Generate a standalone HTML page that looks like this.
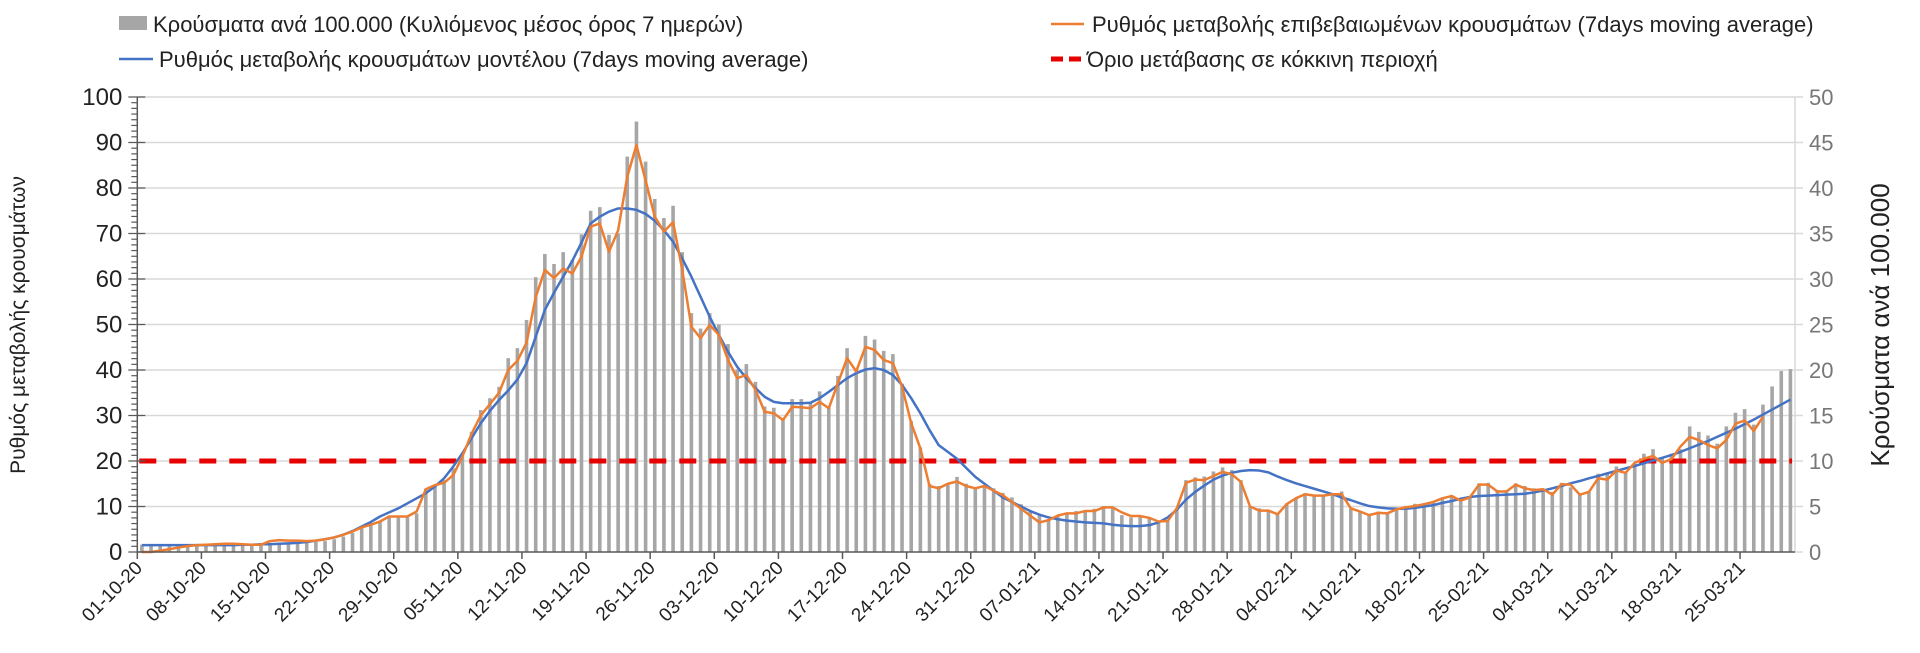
<!DOCTYPE html>
<html><head><meta charset="utf-8"><style>
html,body{margin:0;padding:0;background:#fff;}
body{width:1920px;height:648px;overflow:hidden;font-family:"Liberation Sans","DejaVu Sans",sans-serif;}
svg text{font-family:"Liberation Sans","DejaVu Sans",sans-serif;}
</style></head><body>
<svg id="chart" width="1920" height="648" viewBox="0 0 1920 648" xmlns="http://www.w3.org/2000/svg">
<g id="grid"></g>
<g id="bars"></g>
<g id="lines"></g>
<g id="axes"></g>
<g>
  <rect x="119" y="16" width="28" height="14" fill="#a6a6a6"/>
  <text x="153" y="32" font-size="22" fill="#222">Κρούσματα ανά 100.000 (Κυλιόμενος μέσος όρος 7 ημερών)</text>
  <line x1="1051" y1="24" x2="1084" y2="24" stroke="#ED7D31" stroke-width="2.5"/>
  <text x="1092" y="32" font-size="22" fill="#222">Ρυθμός μεταβολής επιβεβαιωμένων κρουσμάτων (7days moving average)</text>
  <line x1="119" y1="59" x2="153" y2="59" stroke="#4472C4" stroke-width="2.5"/>
  <text x="159" y="67" font-size="22" fill="#222">Ρυθμός μεταβολής κρουσμάτων μοντέλου (7days moving average)</text>
  <line x1="1051" y1="59" x2="1082" y2="59" stroke="#e60000" stroke-width="5" stroke-dasharray="12,6"/>
  <text x="1087" y="67" font-size="22" fill="#222">Όριο μετάβασης σε κόκκινη περιοχή</text>
</g>
<text transform="translate(25,325) rotate(-90)" text-anchor="middle" font-size="21" fill="#222">Ρυθμός μεταβολής κρουσμάτων</text>
<text transform="translate(1889,325) rotate(-90)" text-anchor="middle" font-size="26" fill="#222">Κρούσματα ανά 100.000</text>
</svg>
<script>
const barsLeftUnits = [1.6,1.6,1.6,1.6,1.6,1.6,1.6,1.8,1.8,1.8,1.8,1.8,1.8,1.8,2,2,2,2,2.2,2.2,2.4,2.8,3.4,4.2,
5.4,6,6.7,7.6,7.9,7.6,8.5,13.9,14.5,15.8,18.4,
21,26.4,31.2,33.8,36.3,42.6,44.8,51,60.4,65.5,63.3,
65.9,64.2,69.8,75,75.8,69.7,70,86.9,94.6,85.8,77.6,73.4,76.1,65.9,52.5,49.1,52.5,50,45.7,40.1,41.3,37.4,32,31.7,29.1,33.6,33.6,32.7,35.3,32,38.7,44.8,40.1,47.5,46.7,44.2,43.5,37,28.8,23,
15,14.5,15,16.5,15,14,14.5,14,13,12,10.5,9,8,7,8,8.5,9,9,9.5,
10.1,10,8.1,7.6,7.9,7.4,6.7,7,9.6,15.8,16.4,16.6,17.7,18.6,18,15.8,10.1,9.6,9.2,8.5,10.7,11.8,12.9,12.5,12.5,12.9,13.3,9.6,8.9,8.1,8.9,8.7,9.6,10.1,10.6,10.7,11.1,12,12.5,11.8,12.2,15.1,15.2,13.6,13.6,15.1,
14.5,14,
13.4,13.2,15.2,14.2,12.8,13.2,17.2,17.2,18.8,17.4,19.4,21.6,22.6,20.8,21.6,22.6,27.6,26.4,25.6,23.8,27.6,30.6,31.4,28,32.4,36.4,39.8,40.2];
const casesPer100k = barsLeftUnits.map(v => v / 2);
const orangeSeries = [0,0,0.3,0.6,1,1.3,1.5,1.6,1.7,1.8,1.8,1.7,1.6,1.6,2.4,2.6,2.5,2.5,2.4,2.5,2.8,3.2,3.8,4.5,
5.4,6,6.7,7.8,7.8,7.8,8.9,13.8,14.7,15.2,16.9,21,26,
30,32.5,35,40,42,46,56,
62,60.2,62.3,61.2,64.9,71.5,72.2,66,70.7,82.5,89.4,81.7,73.7,70.4,72.5,62,49.5,47,49.9,47.7,42.2,38.2,38.9,35.6,30.8,30.5,29,31.9,31.8,31.6,33,31.6,37.1,42.6,39.7,45.1,44.4,42.2,41.5,36.4,28.3,22.8,14.5,
14,15,15.5,14.5,14,14.5,13.5,12.5,11,9.5,8,6.5,7,8,8.5,8.5,9,9,
9.8,9.8,8.7,7.9,7.9,7.5,6.7,6.8,9.6,15.2,15.9,15.8,16.7,17.6,17.1,15.4,10,9.1,9.1,8.3,10.5,11.8,12.7,12.4,12.4,12.7,12.7,9.6,8.9,8.1,8.6,8.5,9.4,9.8,10.1,10.5,11,11.8,12.3,11.3,12,14.8,14.8,13.3,13.3,14.8,
14,13.6,
13.8,12.6,14.9,14.8,12.6,13.2,16.2,15.9,17.9,17.4,19.6,20.5,21.1,19.6,20.4,23.2,25.3,24.6,23.5,22.8,24.6,28.2,28.9,26.6,29.7];
const blueSeries = [1.5,1.5,1.5,1.5,1.5,1.5,1.5,1.5,1.5,1.5,1.5,
1.6,1.6,1.7,1.7,1.8,1.9,2.0,2.2,2.5,2.8,3.2,3.8,4.6,
5.6,6.6,7.8,8.7,9.6,10.7,11.8,12.9,14.4,16.2,18.8,
21.7,25,28.3,31,33.4,35.5,37.9,41.5,47.3,53.2,57,60.5,
64,68,72.2,73.7,74.8,75.5,75.5,75.2,74.3,72.8,70.7,68.2,64.5,60.5,56.1,51.7,47.7,44,40.7,38.2,36,34.1,33,32.7,32.7,32.7,32.8,33.8,35.2,36.7,38.2,39.3,40.1,40.4,40,38.9,36.7,33.8,30.5,26.8,23.5,22,20.5,18.5,
16.5,15,13.5,12,11,10,9,8.2,7.6,7.2,6.9,6.7,6.5,6.4,
6.3,6.0,5.8,5.7,5.7,5.9,6.5,7.6,9.3,11.5,13.2,14.6,15.9,16.8,17.4,17.8,18.0,17.9,17.5,16.6,15.8,15.1,14.5,13.9,13.3,12.7,12.0,11.4,10.7,10.1,9.8,9.6,9.5,9.5,9.7,10.0,10.3,10.8,11.2,11.7,12.1,12.3,12.4,12.5,12.6,12.7,12.8,13.1,
13.5,14,14.5,15.1,15.6,16.2,16.7,17.3,17.8,18.4,18.9,19.5,20.1,20.7,21.3,22,22.8,23.6,24.4,25.3,26.2,27.1,28.1,29.1,30.2,31.3,32.4,33.5];
const thresholdValue = [20];
const xTickLabels = ["01-10-20","08-10-20","15-10-20","22-10-20","29-10-20","05-11-20","12-11-20","19-11-20","26-11-20","03-12-20","10-12-20","17-12-20","24-12-20","31-12-20","07-01-21","14-01-21","21-01-21","28-01-21","04-02-21","11-02-21","18-02-21","25-02-21","04-03-21","11-03-21","18-03-21","25-03-21"];
const leftTicks = [0,10,20,30,40,50,60,70,80,90,100];
const rightTicks = [0,5,10,15,20,25,30,35,40,45,50];

const NS = "http://www.w3.org/2000/svg";
const X0 = 137.3, X1 = 1795, Y0 = 552, Y1 = 97;
const N = 181;
const cw = (X1 - X0) / N;
const xc = i => X0 + (i + 0.5) * cw;
const yL = v => Y0 - (v / 100) * (Y0 - Y1);
const yR = v => Y0 - (v / 50) * (Y0 - Y1);
function mk(tag, attrs, parent) {
  const e = document.createElementNS(NS, tag);
  for (const k in attrs) e.setAttribute(k, attrs[k]);
  parent.appendChild(e);
  return e;
}
const grid = document.getElementById('grid'), barsG = document.getElementById('bars'),
      linesG = document.getElementById('lines'), axes = document.getElementById('axes');

leftTicks.forEach(t => {
  if (t === 0) return;
  const g = mk('line', {x1: X0, x2: X1, y1: yL(t), y2: yL(t), stroke: '#d9d9d9', 'stroke-width': 1.5}, grid);
  
  
});

casesPer100k.forEach((v, i) => {
  const r = mk('rect', {x: xc(i) - 1.8, y: yR(v), width: 3.6, height: Y0 - yR(v), fill: '#a6a6a6'}, barsG);
  
  
});

const th = mk('line', {x1: X0 + 2, x2: X1 - 3, y1: yL(thresholdValue[0]), y2: yL(thresholdValue[0]), stroke: '#e60000', 'stroke-width': 5, 'stroke-dasharray': '17,13'}, linesG);



const blueP = mk('polyline', {points: blueSeries.map((v, i) => xc(i) + ',' + yL(v)).join(' '), fill: 'none', stroke: '#4472C4', 'stroke-width': 2.5, 'stroke-linejoin': 'round'}, linesG);


const orP = mk('polyline', {points: orangeSeries.map((v, i) => xc(i) + ',' + yL(v)).join(' '), fill: 'none', stroke: '#ED7D31', 'stroke-width': 2.5, 'stroke-linejoin': 'round'}, linesG);



const la = mk('line', {x1: X0, x2: X0, y1: Y1, y2: Y0, stroke: '#595959', 'stroke-width': 1.5}, axes);


for (let k = 0; k <= 80; k++) {
  const y = Y0 - k * (Y0 - Y1) / 80;
  const major = k % 8 === 0;
  mk('line', {x1: major ? X0 - 9 : X0 - 6, x2: major ? X0 + 8 : X0, y1: y, y2: y, stroke: '#595959', 'stroke-width': 1.2}, axes);
}
leftTicks.forEach(t => {
  const tx = mk('text', {x: X0 - 15, y: yL(t) + 8, 'text-anchor': 'end', 'font-size': 24, fill: '#222'}, axes);
  tx.textContent = t;
  
  
});
const ra = mk('line', {x1: X1, x2: X1, y1: Y1, y2: Y0, stroke: '#d9d9d9', 'stroke-width': 1.5}, axes);


rightTicks.forEach(t => {
  mk('line', {x1: X1, x2: X1 + 8, y1: yR(t), y2: yR(t), stroke: '#d9d9d9', 'stroke-width': 1.5}, axes);
  const tx = mk('text', {x: X1 + 14, y: yR(t) + 8, 'font-size': 22, fill: '#777'}, axes);
  tx.textContent = t;
  
  
});
const xa = mk('line', {x1: X0, x2: X1, y1: Y0, y2: Y0, stroke: '#595959', 'stroke-width': 1.5}, axes);


xTickLabels.forEach((lab, k) => {
  const x = X0 + k * 7 * cw;
  mk('line', {x1: x, x2: x, y1: Y0, y2: Y0 + 7, stroke: '#595959', 'stroke-width': 1.5}, axes);
  const tx = mk('text', {x: 0, y: 0, 'text-anchor': 'end', 'font-size': 19, fill: '#222', transform: 'translate(' + (x + 6) + ',' + (Y0 + 17) + ') rotate(-45)'}, axes);
  tx.textContent = lab;
  
  
});
</script>
</body></html>
